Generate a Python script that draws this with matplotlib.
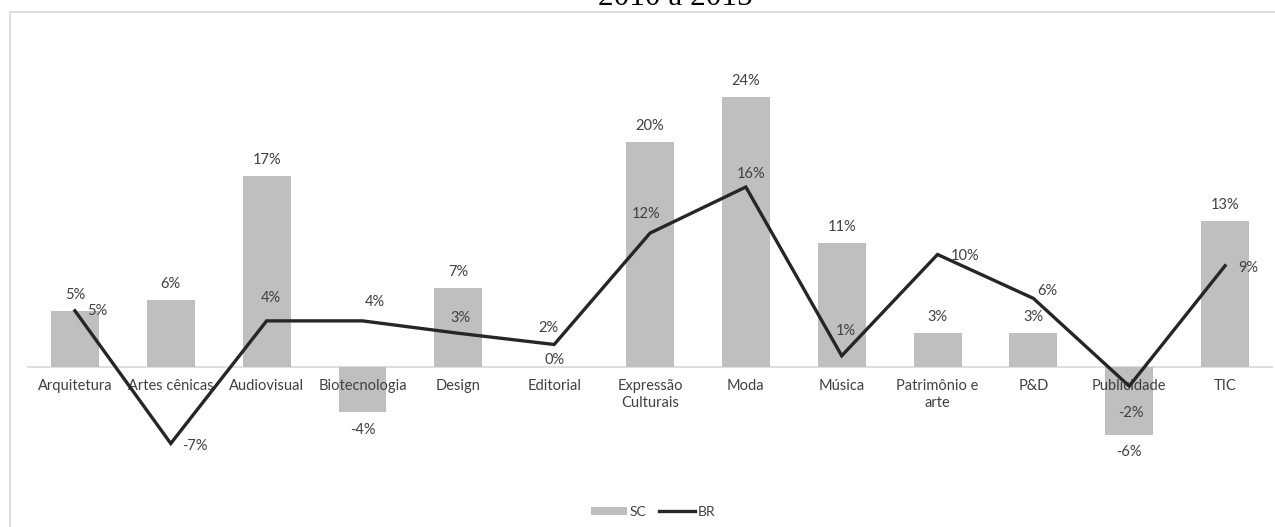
import matplotlib.pyplot as plt
from matplotlib.patches import Rectangle
from matplotlib.patches import Patch
from matplotlib.lines import Line2D

# data (% change 2010 a 2015)
categories = ["Arquitetura", "Artes cênicas", "Audiovisual", "Biotecnologia",
              "Design", "Editorial", "Expressão\nCulturais", "Moda", "Música",
              "Patrimônio e\narte", "P&D", "Publicidade", "TIC"]
sc_values = [5, 6, 17, -4, 7, 0, 20, 24, 11, 3, 3, -6, 13]
br_values = [5, -6.8, 4.1, 4.1, 3, 2, 11.9, 16, 1, 10, 6.1, -1.7, 9]

# manual label placement for the BR line (pixels), like the hand-tuned original
br_label_offsets = [(22, 0), (24, -3), (4, 23), (12, 19), (2, 15), (-6, 17),
                    (-4, 19), (5, 13), (4, 25), (28, -1), (14, 7), (2, -27),
                    (23, -2)]

FONT = ["Lato", "DejaVu Sans"]
BAR_COLOR = "#BFBFBF"
LINE_COLOR = "#262626"
TEXT_COLOR = "#404040"

fig = plt.figure(figsize=(12.75, 5.27), dpi=100)

# chart frame
fig.patches.append(Rectangle((10 / 1275, -0.1), 1.2, 1.1 - 12 / 527,
                             transform=fig.transFigure, fill=False,
                             edgecolor="#D9D9D9", linewidth=1.2))

ax = fig.add_axes([27 / 1275, 70 / 527, 1246 / 1275, 382.5 / 527])
x = list(range(len(categories)))

ax.bar(x, sc_values, width=0.5, color=BAR_COLOR, zorder=2)
ax.plot(x, br_values, color=LINE_COLOR, linewidth=2.4, zorder=4,
        solid_joinstyle="miter")
ax.axhline(0, color="#D9D9D9", linewidth=1.2, zorder=1)

ax.set_xlim(-0.5, len(categories) - 0.5)
ax.set_ylim(-8, 26)
ax.axis("off")

# category labels just under the zero line
for xi, cat in zip(x, categories):
    ax.annotate(cat, (xi, 0), xytext=(0, -12), textcoords="offset pixels",
                ha="center", va="top", fontsize=10.5, family=FONT,
                color=TEXT_COLOR, zorder=3, linespacing=1.3)

# SC labels
for xi, v in zip(x, sc_values):
    if v > 0:
        off = 16
    elif v < 0:
        off = -18
    else:
        off = 7
    ax.annotate(f"{v:.0f}%", (xi, v), xytext=(0, off),
                textcoords="offset pixels", ha="center", va="center",
                fontsize=10.5, family=FONT, color=TEXT_COLOR, zorder=5)

# BR labels
for xi, v, (dx, dy) in zip(x, br_values, br_label_offsets):
    ax.annotate(f"{v:.0f}%", (xi, v), xytext=(dx, dy),
                textcoords="offset pixels", ha="center", va="center",
                fontsize=10.5, family=FONT, color=TEXT_COLOR, zorder=5)

# title, cut off at the top as in the reference
fig.text(675 / 1275, (527 - 5) / 527, "2010 a 2015", ha="center",
         va="baseline", fontsize=22.5, family="Liberation Serif", color="black")

handles = [Patch(facecolor=BAR_COLOR, edgecolor="none"),
           Line2D([0], [0], color=LINE_COLOR, linewidth=2.4)]
fig.legend(handles, ["SC", "BR"], loc="center", ncol=2, frameon=False,
           bbox_to_anchor=(653 / 1275, 15 / 527), handlelength=2.6,
           handleheight=0.55, handletextpad=0.2, columnspacing=0.9,
           prop={"family": FONT, "size": 10}, labelcolor=TEXT_COLOR)

fig.savefig("out.png", dpi=100)
